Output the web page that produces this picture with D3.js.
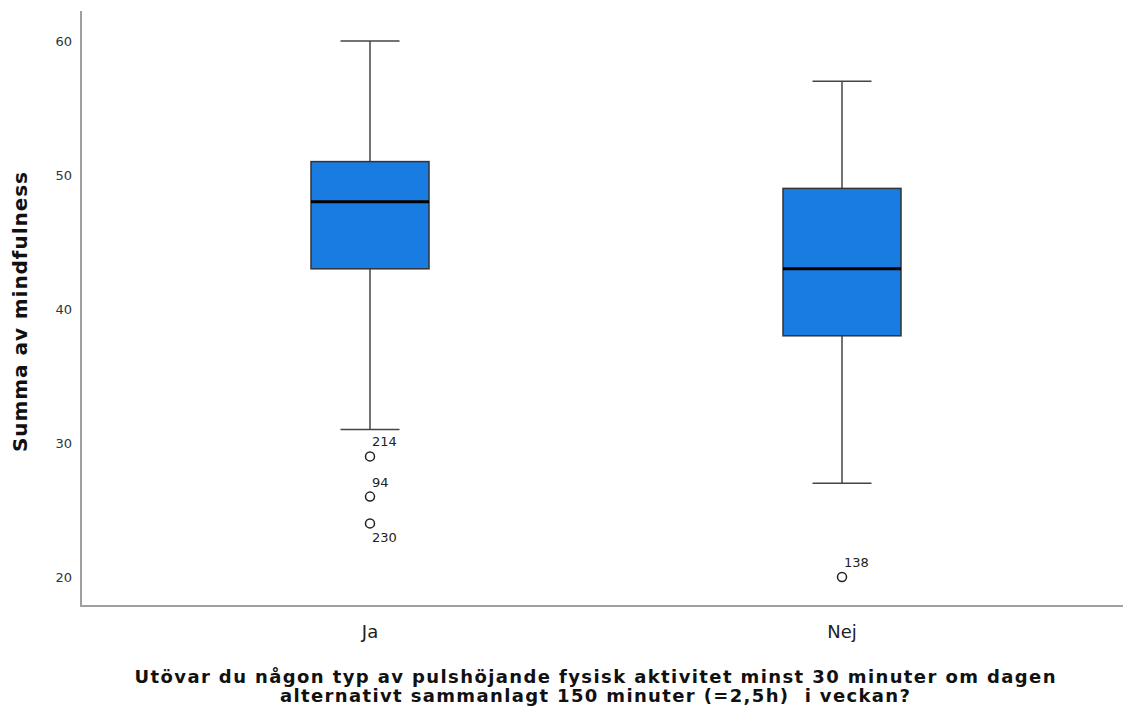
<!DOCTYPE html>
<html>
<head>
<meta charset="utf-8">
<script src="https://cdn.jsdelivr.net/npm/d3@7"></script>
<style>
  body { margin: 0; background: #fff; }
  svg { display: block; font-family: "DejaVu Sans", sans-serif; }
</style>
</head>
<body>
<div id="chart"></div>
<script>
// grupper och lådagram-statistik
var groups = ["Ja", "Nej"];
var whiskerLow = [31, 27];
var q1 = [43, 38];
var median = [48, 43];
var q3 = [51, 49];
var whiskerHigh = [60, 57];
// extremvärden
var outlierGroup = ["Ja", "Ja", "Ja", "Nej"];
var outlierValue = [29, 26, 24, 20];
var outlierId = ["214", "94", "230", "138"];
var yTicks = [20, 30, 40, 50, 60];

var width = 1123, height = 709;

var svg = d3.select("#chart")
    .append("svg")
    .attr("width", width)
    .attr("height", height);

var yScale = d3.scaleLinear()
    .domain([20, 60])
    .range([577, 41]);

var xScale = d3.scalePoint()
    .domain(groups)
    .range([370, 842]);

var boxW = 118, capW = 59;

// axlar
svg.append("line")
    .attr("x1", 81).attr("x2", 81)
    .attr("y1", 11).attr("y2", 606)
    .attr("stroke", "#a0a0a0")
    .attr("stroke-width", 2);

svg.append("line")
    .attr("x1", 80).attr("x2", width)
    .attr("y1", 606).attr("y2", 606)
    .attr("stroke", "#a0a0a0")
    .attr("stroke-width", 2);

svg.selectAll(".ytick")
    .data(yTicks)
    .enter()
    .append("text")
    .attr("class", "ytick")
    .attr("x", 72)
    .attr("y", d => yScale(d))
    .attr("dy", "0.35em")
    .attr("text-anchor", "end")
    .style("font-size", "13px")
    .style("fill", "#333")
    .text(d => d);

svg.selectAll(".xtick")
    .data(groups)
    .enter()
    .append("text")
    .attr("class", "xtick")
    .attr("x", d => xScale(d))
    .attr("y", 638)
    .attr("text-anchor", "middle")
    .style("font-size", "18px")
    .style("fill", "#222")
    .text(d => d);

// axeltitlar
svg.append("text")
    .attr("transform", "translate(27,312) rotate(-90)")
    .attr("text-anchor", "middle")
    .attr("textLength", 280)
    .attr("lengthAdjust", "spacing")
    .style("font-size", "20px")
    .style("font-weight", "bold")
    .style("fill", "#111")
    .text("Summa av mindfulness");

var xTitle = ["Utövar du någon typ av pulshöjande fysisk aktivitet minst 30 minuter om dagen",
              "alternativt sammanlagt 150 minuter (=2,5h)  i veckan?"];
var xTitleLen = [921, 630];
svg.selectAll(".xtitle")
    .data(xTitle)
    .enter()
    .append("text")
    .attr("class", "xtitle")
    .attr("x", 595)
    .attr("y", (d, i) => 683 + i * 19)
    .attr("text-anchor", "middle")
    .attr("textLength", (d, i) => xTitleLen[i])
    .attr("lengthAdjust", "spacing")
    .style("font-size", "18px")
    .style("font-weight", "bold")
    .style("fill", "#111")
    .style("white-space", "pre")
    .text(d => d);

// lådor
var g = svg.append("g");
groups.forEach(function(grp, i) {
    var cx = xScale(grp);
    // morrhår
    g.append("line")
        .attr("x1", cx).attr("x2", cx)
        .attr("y1", yScale(whiskerHigh[i])).attr("y2", yScale(q3[i]))
        .attr("stroke", "#444").attr("stroke-width", 1.5);
    g.append("line")
        .attr("x1", cx).attr("x2", cx)
        .attr("y1", yScale(q1[i])).attr("y2", yScale(whiskerLow[i]))
        .attr("stroke", "#444").attr("stroke-width", 1.5);
    g.append("line")
        .attr("x1", cx - capW / 2).attr("x2", cx + capW / 2)
        .attr("y1", yScale(whiskerHigh[i])).attr("y2", yScale(whiskerHigh[i]))
        .attr("stroke", "#444").attr("stroke-width", 1.5);
    g.append("line")
        .attr("x1", cx - capW / 2).attr("x2", cx + capW / 2)
        .attr("y1", yScale(whiskerLow[i])).attr("y2", yScale(whiskerLow[i]))
        .attr("stroke", "#444").attr("stroke-width", 1.5);
    g.append("rect")
        .attr("x", cx - boxW / 2)
        .attr("y", yScale(q3[i]))
        .attr("width", boxW)
        .attr("height", yScale(q1[i]) - yScale(q3[i]))
        .attr("fill", "#197ce0")
        .attr("stroke", "#333")
        .attr("stroke-width", 1.5);
    g.append("line")
        .attr("x1", cx - boxW / 2).attr("x2", cx + boxW / 2)
        .attr("y1", yScale(median[i])).attr("y2", yScale(median[i]))
        .attr("stroke", "#000").attr("stroke-width", 3);
});

// extremvärden
g.selectAll("circle")
    .data(outlierValue)
    .enter()
    .append("circle")
    .attr("cx", (d, i) => xScale(outlierGroup[i]))
    .attr("cy", d => yScale(d))
    .attr("r", 4.5)
    .attr("fill", "#fff")
    .attr("stroke", "#222")
    .attr("stroke-width", 1.5);

// etiketter: 230 ligger under punkten, övriga ovanför
g.selectAll(".olabel")
    .data(outlierValue)
    .enter()
    .append("text")
    .attr("class", "olabel")
    .attr("x", (d, i) => xScale(outlierGroup[i]) + 2)
    .attr("y", (d, i) => outlierId[i] === "230" ? yScale(d) + 19 : yScale(d) - 10)
    .style("font-size", "13px")
    .style("fill", "#222")
    .text((d, i) => outlierId[i]);
</script>
</body>
</html>
